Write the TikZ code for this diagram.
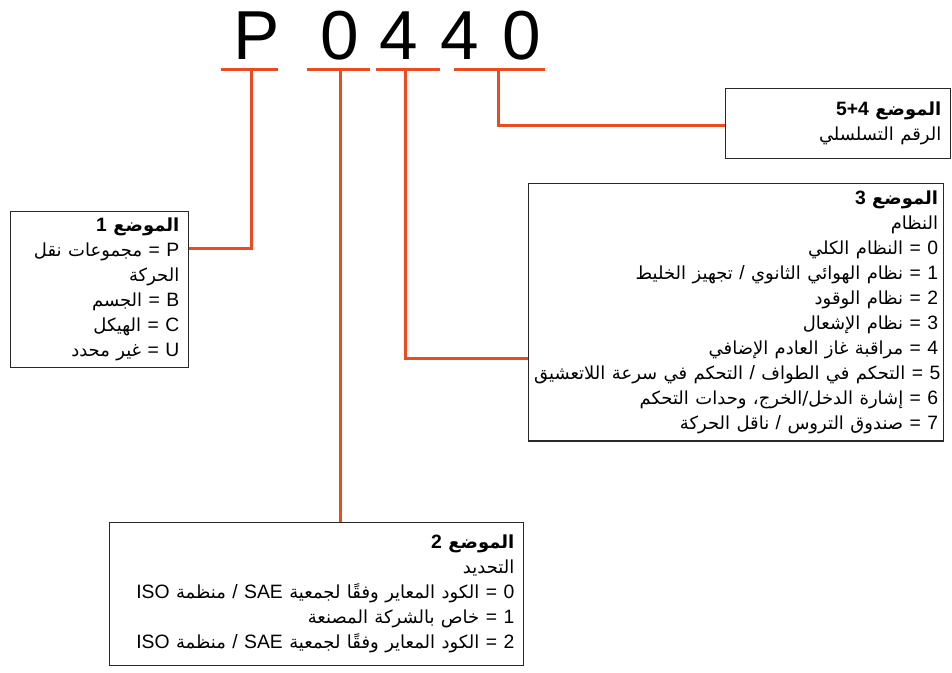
\documentclass[tikz,border=0pt]{standalone}
\usepackage{xcolor}
\usepackage{fontspec}
\setmainfont{Liberation Sans}
\newfontfamily\arabicfont[Script=Arabic,Scale=0.93]{DejaVu Sans}
\newcommand{\arb}[1]{{\arabicfont #1}}
\newcommand{\rline}[1]{\mbox{\beginR #1\endR}}
\TeXXeTstate=1
\usetikzlibrary{positioning,calc}
\definecolor{codeRed}{RGB}{235,75,35}
\definecolor{boxGray}{RGB}{40,40,40}

\begin{document}
\begin{tikzpicture}[x=0.75pt,y=-0.75pt,
          digit/.style={inner sep=0pt,anchor=base,
                        font=\fontsize{52}{52}\selectfont},
          infobox/.style={draw=boxGray,line width=0.9pt,anchor=north west,
                          align=right,inner xsep=3pt,inner ysep=1.5pt,
                          font=\fontsize{14.5}{18.75}\selectfont},
          link/.style={codeRed,line width=2.25pt}]
  \useasboundingbox (0,0) rectangle (952,673);
  % the code
  \node[digit](cP) at (257,60){P};
  \node[digit](c1) at (340,60){0};
  \node[digit](c2) at (399,60){4};
  \node[digit](c3) at (460,60){4};
  \node[digit](c4) at (522,60){0};
  % underlines
  \draw[link] (221,70)--(278,70) (307,70)--(370,70)
              (376,70)--(440,70) (454,70)--(545,70);
  \coordinate (u1) at (251,70);
  \coordinate (u2) at (340,70);
  \coordinate (u3) at (405,70);
  \coordinate (u4) at (498,70);
  \coordinate (k1) at (0,249);
  \coordinate (k3) at (0,358);
  \coordinate (k4) at (0,126);
  % boxes
  \node[infobox,minimum width=133.5pt,minimum height=117pt,text width=119.5pt]
    (pos1) at (10,211){\rline{\textbf{\arb{الموضع} 1}}\\
      \rline{P = \arb{مجموعات نقل}}\\
      \rline{\arb{الحركة}}\\
      \rline{B = \arb{الجسم}}\\
      \rline{C = \arb{الهيكل}}\\
      \rline{U = \arb{غير محدد}}};
  \node[infobox,minimum width=310.5pt,minimum height=107.25pt,text width=296.5pt]
    (pos2) at (109,522){\rline{\textbf{\arb{الموضع} 2}}\\
      \rline{\arb{التحديد}}\\
      \rline{0 = \arb{الكود المعاير وفقًا لجمعية} SAE / \arb{منظمة} ISO}\\
      \rline{1 = \arb{خاص بالشركة المصنعة}}\\
      \rline{2 = \arb{الكود المعاير وفقًا لجمعية} SAE / \arb{منظمة} ISO}};
  \node[infobox,minimum width=311.25pt,minimum height=193pt,text width=303pt]
    (pos3) at (528,183){\rline{\textbf{\arb{الموضع} 3}}\\
      \rline{\arb{النظام}}\\
      \rline{0 = \arb{النظام الكلي}}\\
      \rline{1 = \arb{نظام الهوائي الثانوي} / \arb{تجهيز الخليط}}\\
      \rline{2 = \arb{نظام الوقود}}\\
      \rline{3 = \arb{نظام الإشعال}}\\
      \rline{4 = \arb{مراقبة غاز العادم الإضافي}}\\
      \rline{5 = \arb{التحكم في الطواف} / \arb{التحكم في سرعة اللاتعشيق}}\\
      \rline{6 = \arb{إشارة الدخل/الخرج، وحدات التحكم}}\\
      \rline{7 = \arb{صندوق التروس} / \arb{ناقل الحركة}}};
  \node[infobox,minimum width=168.75pt,minimum height=52.5pt,text width=154.75pt]
    (pos4) at (725,88){\rline{\textbf{\arb{الموضع} 5+4}}\\
      \rline{\arb{الرقم التسلسلي}}};
  % connectors
  \draw[link] (u1) |- (pos1.east |- k1);
  \draw[link] (u2) -- (u2 |- pos2.north);
  \draw[link] (u3) |- (pos3.west |- k3);
  \draw[link] (u4) |- (pos4.west |- k4);
\end{tikzpicture}
\end{document}
